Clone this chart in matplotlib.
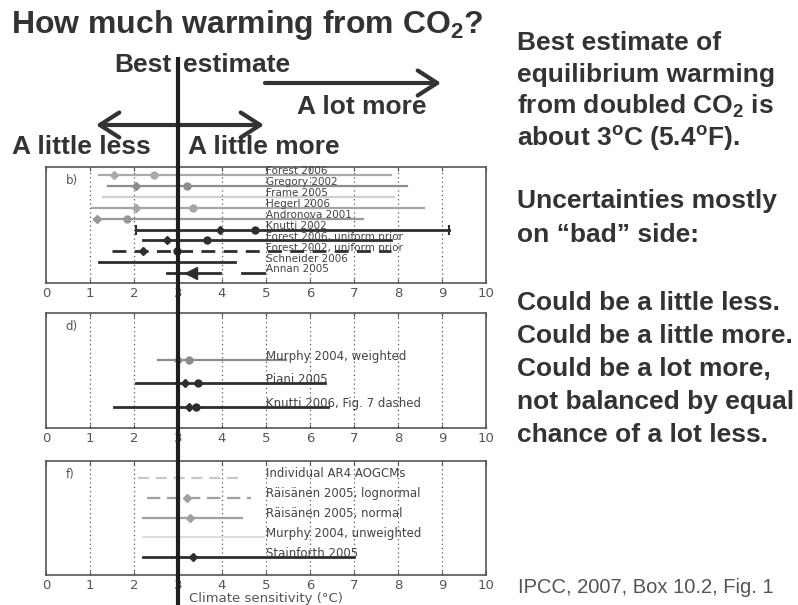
import numpy as np
import matplotlib
matplotlib.use("Agg")
import matplotlib.pyplot as plt

plt.rcParams['mathtext.fontset'] = 'custom'
plt.rcParams['mathtext.rm'] = 'Liberation Sans:bold'
plt.rcParams['mathtext.bf'] = 'Liberation Sans:bold'

# panel b: constrained by observed 20th century / recent climate change
labels_b = ["Forest 2006", "Gregory 2002", "Frame 2005", "Hegerl 2006", "Andronova 2001",
            "Knutti 2002", "Forest 2006, uniform prior", "Forest 2002, uniform prior",
            "Schneider 2006", "Annan 2005"]
low_b = [1.2, 1.4, 1.3, 1.05, 1.1, 2.05, 2.2, 1.5, 1.2, 2.75]
high_b = [7.85, 8.2, 7.9, 8.6, 7.2, 9.15, 7.85, 7.85, 4.3, 3.95]
mode_b = [1.55, 2.05, np.nan, 2.05, 1.15, 3.95, 2.75, 2.2, np.nan, np.nan]
median_b = [2.45, 3.2, np.nan, 3.35, 1.85, 4.75, 3.65, 2.98, np.nan, np.nan]
annan_tail = [4.45, 4.95]
annan_peak = 3.3

# panel d
labels_d = ["Murphy 2004, weighted", "Piani 2005", "Knutti 2006, Fig. 7 dashed"]
low_d = [2.55, 2.05, 1.55]
high_d = [5.45, 6.35, 6.4]
mode_d = [3.0, 3.15, 3.25]
median_d = [3.25, 3.45, 3.4]

# panel f
labels_f = ["Individual AR4 AOGCMs", "Räisänen 2005, lognormal", "Räisänen 2005, normal",
            "Murphy 2004, unweighted", "Stainforth 2005"]
low_f = [2.1, 2.3, 2.2, 2.2, 2.2]
high_f = [4.5, 4.65, 4.45, 4.95, 7.0]
mode_f = [np.nan, 3.2, 3.27, np.nan, 3.35]

best_estimate = 3

shade_b = ['#aaaaaa', '#8c8c8c', '#cfcfcf', '#a5a5a5', '#999999',
           '#2e2e2e', '#2e2e2e', '#2e2e2e', '#2e2e2e', '#2e2e2e']
dash_b = ['-'] * 7 + [(0, (5, 3))] + ['-', '-']
shade_d = ['#8c8c8c', '#2e2e2e', '#2e2e2e']
shade_f = ['#c8c8c8', '#a0a0a0', '#a0a0a0', '#dddddd', '#2e2e2e']
dash_f = [(0, (5, 3)), (0, (6, 3)), '-', '-', '-']

W, H = 798, 605
fig = plt.figure(figsize=(W / 100, H / 100), dpi=100)
fig.patch.set_facecolor('white')


def px_axes(left, top, right, bottom):
    return fig.add_axes([left / W, 1 - bottom / H, (right - left) / W, (bottom - top) / H])


def style_panel(ax, ylim, tag):
    ax.set_xlim(0, 10)
    ax.set_ylim(ylim)
    ax.set_xticks(range(11))
    ax.set_yticks([])
    ax.tick_params(axis='x', direction='in', top=True, length=3, pad=3,
                   labelsize=9.5, labelcolor='#555555', color='#555555')
    for s in ax.spines.values():
        s.set_color('#555555')
        s.set_linewidth(1.2)
    for x in range(1, 10):
        ax.axvline(x, color='#555555', lw=0.9, ls=(0, (1, 2.5)), zorder=0)
    ax.text(0.45, ylim[1] + 0.12 * (ylim[0] - ylim[1]), tag, fontsize=8.5,
            color='#555555', va='center')


def draw_rows(ax, labels, low, high, mode, median, shades, dashes, fsize):
    rows = np.arange(1, len(labels) + 1)
    for i, y in enumerate(rows):
        lw = 2.0 if shades[i] == '#2e2e2e' else 1.6
        ax.plot([low[i], high[i]], [y, y], color=shades[i], ls=dashes[i], lw=lw, zorder=2)
        if mode is not None and not np.isnan(mode[i]):
            ax.plot(mode[i], y, marker='D', ms=4, color=shades[i], zorder=3)
        if median is not None and not np.isnan(median[i]):
            ax.plot(median[i], y, marker='o', ms=5, color=shades[i], zorder=3)
        ax.text(5.0, y + 0.12, labels[i], fontsize=fsize, color='#444444',
                va='bottom', ha='left', zorder=4)
    return rows


ax_b = px_axes(46, 167, 486, 283)
ax_d = px_axes(46, 313, 486, 428)
ax_f = px_axes(46, 461, 486, 575)

style_panel(ax_b, (10.9, 0.27), 'b)')
style_panel(ax_d, (3.9, -1.0), 'd)')
style_panel(ax_f, (5.9, 0.14), 'f)')

rows_b = draw_rows(ax_b, labels_b, low_b, high_b, mode_b, median_b, shade_b, dash_b, 7.5)
ax_b.plot(annan_tail, [rows_b[-1]] * 2, color='#2e2e2e', lw=2.0)
ax_b.plot(annan_peak, rows_b[-1], marker='<', ms=9, color='#2e2e2e', zorder=3)
ax_b.plot([low_b[5], high_b[5]], [rows_b[5]] * 2, ls='none', marker='|', ms=7,
          mew=1.5, color='#2e2e2e')

draw_rows(ax_d, labels_d, low_d, high_d, mode_d, median_d, shade_d, ['-'] * 3, 8.5)
draw_rows(ax_f, labels_f, low_f, high_f, mode_f, None, shade_f, dash_f, 8.5)
ax_f.set_xlabel('Climate sensitivity (°C)', fontsize=9.5, color='#555555', labelpad=0)

# overlay in pixel coordinates for the slide text
ov = fig.add_axes([0, 0, 1, 1])
ov.set_xlim(0, W)
ov.set_ylim(H, 0)
ov.axis('off')

x3 = ax_b.transData.transform((best_estimate, 0))[0]
ov.plot([x3, x3], [57, H], color='#1e1e1e', lw=3.0, solid_capstyle='butt', zorder=10)

dark = '#333333'
bold = dict(family='Liberation Sans', weight='bold', color=dark)

ov.text(11, 33, 'How much warming from CO$_2$?', fontsize=23, va='baseline', **bold)
ov.text(x3 - 6, 72, 'Best', fontsize=19, ha='right', va='baseline', **bold)
ov.text(x3 + 5, 72, 'estimate', fontsize=19, ha='left', va='baseline', **bold)
ov.text(362, 114, 'A lot more', fontsize=19, ha='center', va='baseline', **bold)
ov.text(12, 154, 'A little less', fontsize=19, ha='left', va='baseline', **bold)
ov.text(x3 + 10, 154, 'A little more', fontsize=19, ha='left', va='baseline', **bold)

arrow = dict(arrowstyle='->,head_length=0.7,head_width=0.45', lw=3, color=dark,
             mutation_scale=20, shrinkA=0, shrinkB=0)
ov.annotate('', xy=(441, 83), xytext=(265, 83), arrowprops=arrow)
arrow2 = dict(arrow, arrowstyle='<->,head_length=0.7,head_width=0.45')
ov.annotate('', xy=(264, 125), xytext=(96, 125), arrowprops=arrow2)

block1 = ['Best estimate of', 'equilibrium warming', 'from doubled CO$_2$ is',
          'about 3$^{\\rm o}$C (5.4$^{\\rm o}$F).']
block2 = ['Uncertainties mostly', 'on \u201cbad\u201d side:']
block3 = ['Could be a little less.', 'Could be a little more.', 'Could be a lot more,',
          'not balanced by equal', 'chance of a lot less.']
for lines, y0, step in [(block1, 50, 32), (block2, 208, 34), (block3, 310, 33)]:
    for i, line in enumerate(lines):
        ov.text(517, y0 + i * step, line, fontsize=19, va='baseline', **bold)

ov.text(518, 593, 'IPCC, 2007, Box 10.2, Fig. 1', fontsize=14.5, family='Liberation Sans',
        color='#555555', va='baseline')

fig.savefig('out.png', dpi=100)
